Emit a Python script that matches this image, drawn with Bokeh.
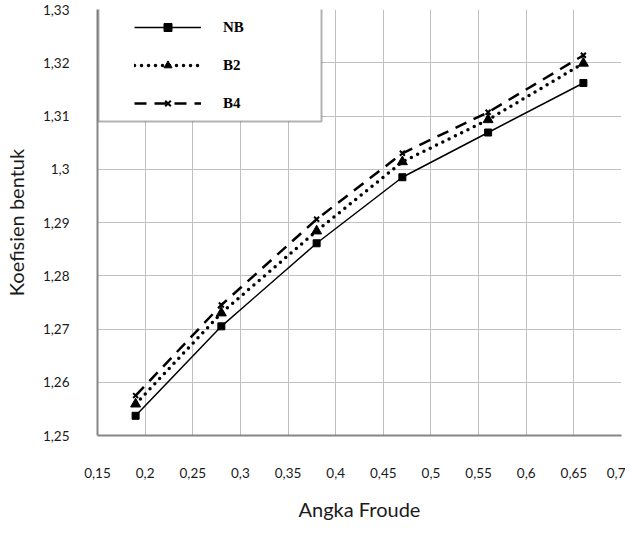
from bokeh.plotting import figure
from bokeh.models import (Range1d, FixedTicker, Legend, LegendItem, BoxAnnotation)
from bokeh.embed import file_html
from bokeh.resources import INLINE

# ---- data ----
froude = [0.19, 0.28, 0.38, 0.47, 0.56, 0.66]
nb = [1.2537, 1.2705, 1.2861, 1.2985, 1.3069, 1.3162]
b2 = [1.2559, 1.2730, 1.2884, 1.3014, 1.3093, 1.3199]
b4 = [1.2575, 1.2745, 1.2906, 1.3030, 1.3107, 1.3214]
series_names = ["NB", "B2", "B4"]

x_ticks = [0.15, 0.2, 0.25, 0.3, 0.35, 0.4, 0.45, 0.5, 0.55, 0.6, 0.65, 0.7]
x_labels = ["0,15", "0,2", "0,25", "0,3", "0,35", "0,4", "0,45", "0,5", "0,55", "0,6", "0,65", "0,7"]
y_ticks = [1.25, 1.26, 1.27, 1.28, 1.29, 1.30, 1.31, 1.32, 1.33]
y_labels = ["1,25", "1,26", "1,27", "1,28", "1,29", "1,3", "1,31", "1,32", "1,33"]

x_title = "Angka Froude"
y_title = "Koefisien bentuk"

# ---- layout ----
FW, FH = 524, 426
x0, x1 = 0.15, 0.7
y0, y1 = 1.25, 1.33

p = figure(frame_width=FW, frame_height=FH,
           min_border_left=91, min_border_right=4, min_border_top=9, min_border_bottom=82,
           x_range=Range1d(x0, x1), y_range=Range1d(y0, y1),
           output_backend="svg", toolbar_location=None)
p.outline_line_color = None
p.background_fill_color = "white"
p.border_fill_color = "white"

tick_font = "Lato"
for ax, ticks, labels in ((p.xaxis[0], x_ticks, x_labels), (p.yaxis[0], y_ticks, y_labels)):
    ax.ticker = FixedTicker(ticks=ticks)
    ax.major_label_overrides = {t: l for t, l in zip(ticks, labels)}
    ax.major_tick_line_color = None
    ax.minor_tick_line_color = None
    ax.axis_line_color = "#868686"
    ax.axis_line_width = 2
    ax.major_label_text_font = tick_font
    ax.major_label_text_font_size = "13.5px"
    ax.major_label_text_color = "#1a1a1a"
    ax.axis_label_text_font = tick_font
    ax.axis_label_text_font_size = "20px"
    ax.axis_label_text_font_style = "normal"
    ax.axis_label_text_color = "#1a1a1a"

p.xaxis[0].axis_label = x_title
p.yaxis[0].axis_label = y_title
p.xaxis[0].major_label_standoff = 26
p.xaxis[0].axis_label_standoff = 16
p.yaxis[0].major_label_standoff = 22
p.yaxis[0].axis_label_standoff = 12

for g in (p.xgrid[0], p.ygrid[0]):
    g.grid_line_color = "#c0c0c0"
    g.grid_line_width = 1
p.xgrid[0].ticker = FixedTicker(ticks=x_ticks)
p.ygrid[0].ticker = FixedTicker(ticks=y_ticks)

# ---- series ----
l_nb = p.line(froude, nb, line_color="black", line_width=1.5)
m_nb = p.scatter(froude, nb, marker="square", size=7, color="black")

l_b2 = p.line(froude, b2, line_color="black", line_width=3.5, line_dash="0 7", line_cap="round")
m_b2 = p.scatter(froude, b2, marker="triangle", size=10, color="black")

l_b4 = p.line(froude, b4, line_color="black", line_width=2.5, line_dash="12 8")
m_b4 = p.scatter(froude, b4, marker="x", size=7, line_color="black", line_width=2)

# ---- legend box (white, black border) ----
px_x = FW / (x1 - x0)
px_y = FH / (y1 - y0)
box = BoxAnnotation(left=x0 + 1 / px_x, right=x0 + 224 / px_x,
                    top=y1 + 2 / px_y, bottom=y1 - 112 / px_y,
                    fill_color="white", fill_alpha=1.0,
                    line_color="black", line_width=2, level="annotation")
p.add_layout(box)

legend = Legend(items=[
    LegendItem(label=series_names[0], renderers=[l_nb, m_nb]),
    LegendItem(label=series_names[1], renderers=[l_b2, m_b2]),
    LegendItem(label=series_names[2], renderers=[l_b4, m_b4]),
], location=(37, FH - 8 - 96), padding=0, margin=0, spacing=18,
   glyph_width=67, glyph_height=20, label_height=20, label_standoff=22,
   border_line_color=None, background_fill_alpha=0.0,
   label_text_font="Liberation Serif", label_text_font_style="bold",
   label_text_font_size="15px", label_text_color="black")
p.add_layout(legend, "center")

open("out.html", "w").write(file_html(p, INLINE))
